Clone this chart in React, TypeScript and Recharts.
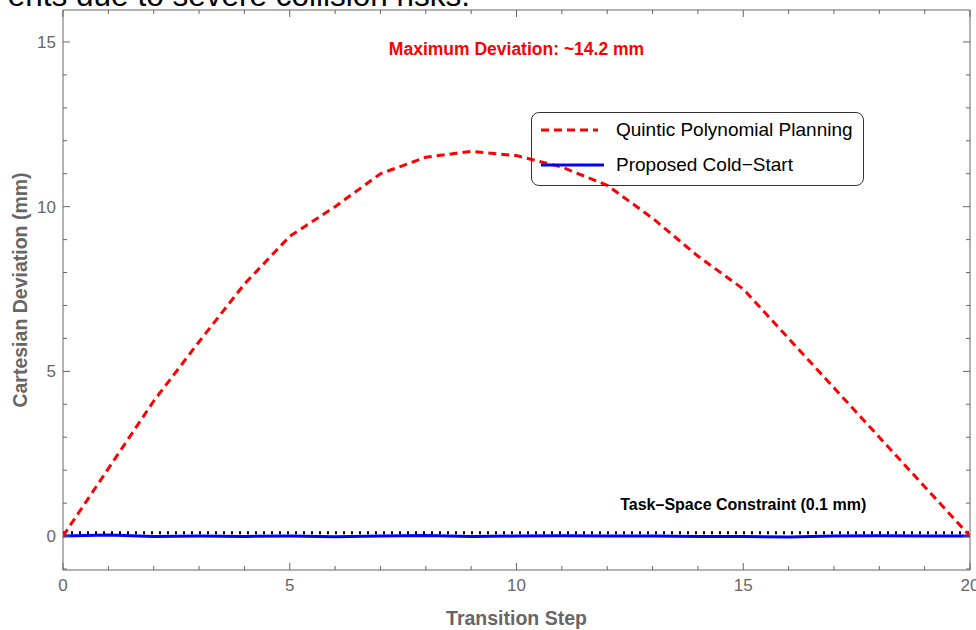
import { Legend, Line, LineChart, ReferenceDot, XAxis, YAxis } from "recharts"

const steps = [0, 1, 2, 3, 4, 5, 6, 7, 8, 9, 10, 11, 12, 13, 14, 15, 16, 17, 18, 19, 20]
const quintic = [0, 2.05, 4.1, 5.9, 7.65, 9.1, 10.0, 11.0, 11.5, 11.68, 11.55, 11.2, 10.65, 9.65, 8.5, 7.5, 6.0, 4.5, 3.0, 1.5, 0]
const coldStart = [0, 0.03, -0.01, 0, -0.01, 0, -0.02, 0, 0.02, -0.01, 0, 0.01, 0, 0, -0.01, -0.01, -0.03, 0, 0.01, 0, 0]
const constraint = [0.1, 0.1, 0.1, 0.1, 0.1, 0.1, 0.1, 0.1, 0.1, 0.1, 0.1, 0.1, 0.1, 0.1, 0.1, 0.1, 0.1, 0.1, 0.1, 0.1, 0.1]

const xTicks = [0, 1, 2, 3, 4, 5, 6, 7, 8, 9, 10, 11, 12, 13, 14, 15, 16, 17, 18, 19, 20]
const yTicks = [-1, 0, 1, 2, 3, 4, 5, 6, 7, 8, 9, 10, 11, 12, 13, 14, 15]

const seriesNames = ["Quintic Polynomial Planning", "Proposed Cold\u2212Start"]
const titleTail = "ents due to severe collision risks."
const maxNote = "Maximum Deviation: ~14.2 mm"
const constraintNote = "Task\u2013Space Constraint (0.1 mm)"

const data = steps.map((step, i) => ({
  step,
  quintic: quintic[i],
  coldStart: coldStart[i],
  constraint: constraint[i],
}))

const FONT = "'Liberation Sans', Arial, sans-serif"
const GRAY = "#666666"
const RED = "#ff0000"
const BLUE = "#0000ff"

const isMajor = (v: number) => v % 5 === 0

function BottomTick({ x, y, payload }: any) {
  const major = isMajor(payload.value)
  return (
    <g>
      <line x1={x} x2={x} y1={y} y2={y - (major ? 7 : 4)} stroke={GRAY} />
      {major && (
        <text x={x} y={y + 21} textAnchor="middle" fill={GRAY} fontSize={17} fontFamily={FONT}>
          {payload.value}
        </text>
      )}
    </g>
  )
}

function TopTick({ x, y, payload }: any) {
  const major = isMajor(payload.value)
  return <line x1={x} x2={x} y1={y} y2={y + (major ? 7 : 4)} stroke={GRAY} />
}

function LeftTick({ x, y, payload }: any) {
  const major = isMajor(payload.value)
  return (
    <g>
      <line x1={x} x2={x + (major ? 7 : 4)} y1={y} y2={y} stroke={GRAY} />
      {major && (
        <text x={x - 7} y={y + 6} textAnchor="end" fill={GRAY} fontSize={17} fontFamily={FONT}>
          {payload.value}
        </text>
      )}
    </g>
  )
}

function RightTick({ x, y, payload }: any) {
  const major = isMajor(payload.value)
  return <line x1={x} x2={x - (major ? 7 : 4)} y1={y} y2={y} stroke={GRAY} />
}

function LegendBox() {
  const row = (name: string, color: string, dash: string | undefined, top: number) => (
    <div style={{ position: "absolute", left: 8, top, height: 22, display: "flex", alignItems: "center" }}>
      <svg width={66} height={10}>
        <line x1={1} x2={dash ? 58 : 64} y1={5} y2={5} stroke={color} strokeWidth={3} strokeDasharray={dash} />
      </svg>
      <span style={{ marginLeft: 10, fontSize: 19, color: "#000", whiteSpace: "nowrap" }}>{name}</span>
    </div>
  )
  return (
    <div
      style={{
        position: "relative",
        width: 333,
        height: 74,
        boxSizing: "border-box",
        border: "1.5px solid #333",
        borderRadius: 8,
        fontFamily: FONT,
      }}
    >
      {row(seriesNames[0], RED, "8 5", 6)}
      {row(seriesNames[1], BLUE, undefined, 41)}
    </div>
  )
}

export default function App() {
  return (
    <div style={{ width: 976, height: 630, position: "relative" }}>
      <style>{"body{margin:0}"}</style>
      <LineChart
        width={976}
        height={630}
        data={data}
        margin={{ top: 0, right: 0, bottom: 0, left: 0 }}
        style={{ fontFamily: FONT }}
      >
        <text x={470} y={6} textAnchor="end" fontSize={31.5} fill="#000" fontFamily={FONT}>
          {titleTail}
        </text>
        <XAxis
          dataKey="step"
          type="number"
          domain={[0, 20]}
          ticks={xTicks}
          interval={0}
          height={60}
          stroke={GRAY}
          tickSize={0}
          tickMargin={0}
          tick={BottomTick}
          allowDataOverflow
          label={{ value: "Transition Step", position: "insideBottom", offset: 5, fill: GRAY, fontSize: 19.5, fontWeight: "bold" }}
        />
        <XAxis
          xAxisId="top"
          orientation="top"
          dataKey="step"
          type="number"
          domain={[0, 20]}
          ticks={xTicks}
          interval={0}
          height={10}
          stroke={GRAY}
          tickSize={0}
          tickMargin={0}
          tick={TopTick}
          allowDataOverflow
        />
        <YAxis
          type="number"
          domain={[-1.03, 15.97]}
          ticks={yTicks}
          interval={0}
          width={63}
          stroke={GRAY}
          tickSize={0}
          tickMargin={0}
          tick={LeftTick}
          allowDataOverflow
          label={{
            value: "Cartesian Deviation (mm)",
            angle: -90,
            position: "insideLeft",
            offset: 20,
            fill: GRAY,
            fontSize: 19.5,
            fontWeight: "bold",
            style: { textAnchor: "middle" },
          }}
        />
        <YAxis
          yAxisId="right"
          orientation="right"
          type="number"
          domain={[-1.03, 15.97]}
          ticks={yTicks}
          interval={0}
          width={6}
          stroke={GRAY}
          tickSize={0}
          tickMargin={0}
          tick={RightTick}
          allowDataOverflow
        />
        <Line
          dataKey="constraint"
          stroke="#000"
          strokeWidth={3}
          strokeDasharray="2 6"
          dot={false}
          legendType="none"
          isAnimationActive={false}
        />
        <Line
          dataKey="coldStart"
          name={seriesNames[1]}
          stroke={BLUE}
          strokeWidth={3}
          dot={false}
          isAnimationActive={false}
        />
        <Line
          dataKey="quintic"
          name={seriesNames[0]}
          type="linear"
          stroke={RED}
          strokeWidth={3}
          strokeDasharray="8 5"
          dot={false}
          isAnimationActive={false}
        />
        <ReferenceDot
          x={10}
          y={14.8}
          r={0}
          stroke="none"
          fill="none"
          label={{ value: maxNote, position: "center", fill: RED, fontSize: 17.5, fontWeight: "bold" }}
        />
        <ReferenceDot
          x={15}
          y={0.95}
          r={0}
          stroke="none"
          fill="none"
          label={{ value: constraintNote, position: "center", fill: "#000", fontSize: 16, fontWeight: "bold" }}
        />
        <Legend
          layout="horizontal"
          verticalAlign="middle"
          align="center"
          content={LegendBox}
          wrapperStyle={{ left: 531, top: 112, width: 333, height: 74 }}
        />
      </LineChart>
    </div>
  )
}
